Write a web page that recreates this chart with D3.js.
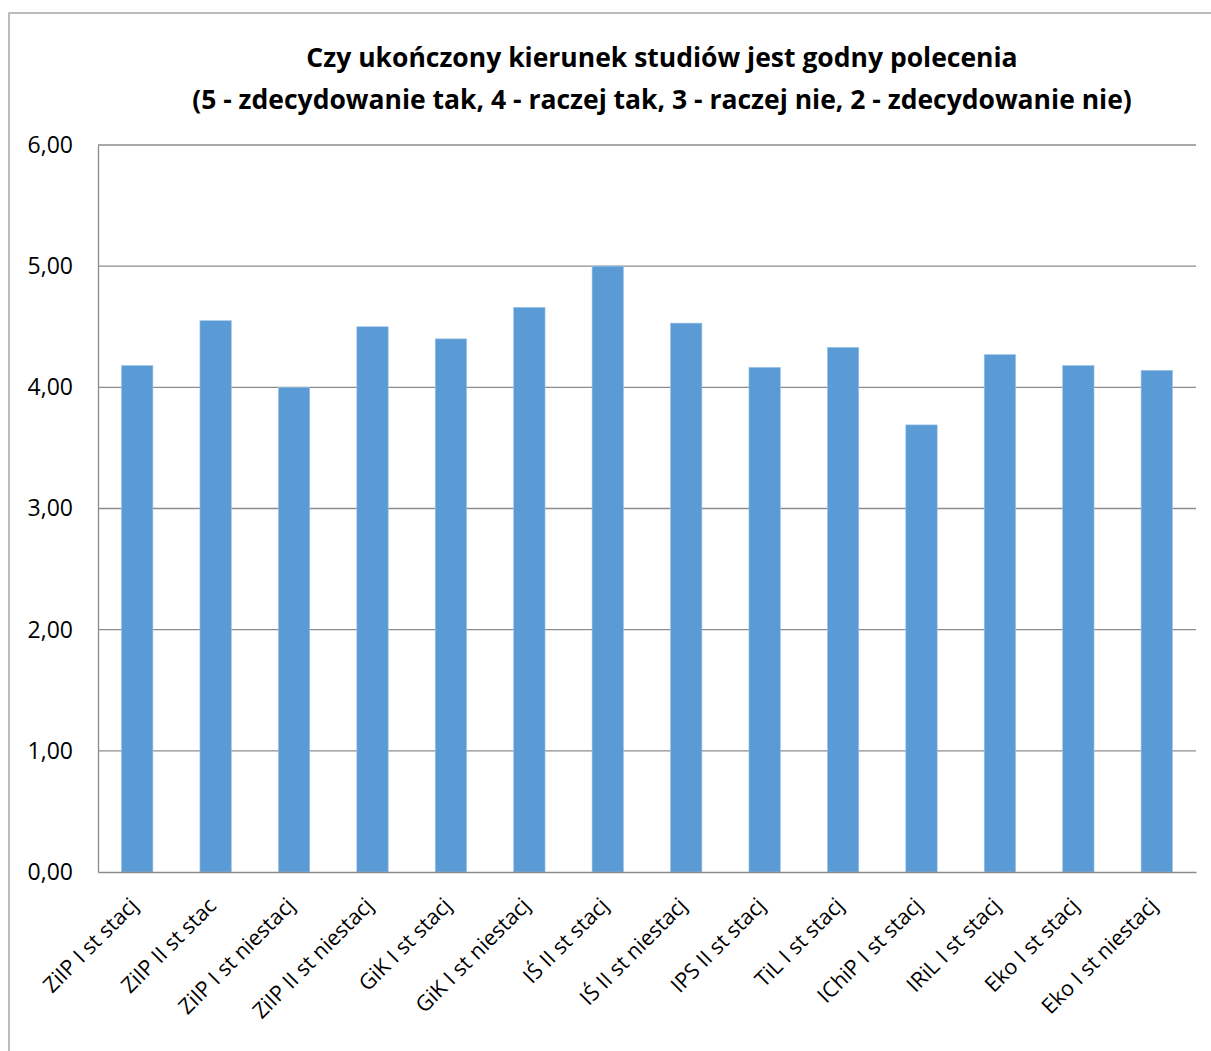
<!DOCTYPE html>
<html><head><meta charset="utf-8">
<script src="https://cdn.jsdelivr.net/npm/d3@7"></script>
<style>body{margin:0;background:#fff}svg{display:block}</style>
</head><body>
<script>
const categories = ["ZiIP I st stacj","ZiIP II st stac","ZiIP I st niestacj","ZiIP II st niestacj","GiK I st stacj","GiK I st niestacj","IŚ II st stacj","IŚ II st niestacj","IPS II st stacj","TiL I st stacj","IChiP I st stacj","IRiL I st stacj","Eko I st stacj","Eko I st niestacj"];
const values = [4.18,4.55,4.00,4.50,4.40,4.66,5.00,4.53,4.165,4.33,3.69,4.27,4.18,4.14];
const yTicks = [0,1,2,3,4,5,6];
const titleLines = ["Czy ukończony kierunek studiów jest godny polecenia","(5 - zdecydowanie tak, 4 - raczej tak, 3 - raczej nie, 2 - zdecydowanie nie)"];

const W = 1211, H = 1051;
const svg = d3.select("body").append("svg").attr("width", W).attr("height", H);
svg.append("rect").attr("x",9).attr("y",13).attr("width",W+20).attr("height",H+20)
  .attr("fill","#fff").attr("stroke","#a6a6a6").attr("stroke-width",1.5);

const m = {left:98, right:1196, top:145, bottom:872};
const x = d3.scaleBand().domain(categories).range([m.left, m.right]).paddingInner(0.6).paddingOuter(0.3);
const y = d3.scaleLinear().domain([0,6]).range([m.bottom, m.top]);

// gridlines
svg.append("g").selectAll("line").data(yTicks.filter(d=>d>0)).join("line")
  .attr("x1", m.left).attr("x2", m.right).attr("y1", d=>y(d)).attr("y2", d=>y(d))
  .attr("stroke","#8c8c8c").attr("stroke-width",1.3);

// bars
svg.append("g").selectAll("rect").data(values).join("rect")
  .attr("x",(d,i)=>x(categories[i])).attr("width", x.bandwidth())
  .attr("y", d=>y(d)).attr("height", d=>y(0)-y(d))
  .attr("fill","#5b9bd5").attr("stroke","#9dc3e6").attr("stroke-width",0.6);

// y axis
const yAxis = d3.axisLeft(y).tickValues(yTicks).tickSize(0).tickPadding(25)
  .tickFormat(d=>d3.format(".2f")(d).replace(".",","));
const gy = svg.append("g").attr("transform",`translate(${m.left},0)`).call(yAxis);
gy.select(".domain").attr("stroke","#8c8c8c").attr("stroke-width",1.3);
gy.selectAll("text").attr("font-family","Open Sans").attr("font-size",23).attr("fill","#000");

// x axis
const xAxis = d3.axisBottom(x).tickSize(0).tickPadding(0);
const gx = svg.append("g").attr("transform",`translate(0,${m.bottom})`).call(xAxis);
gx.select(".domain").attr("stroke","#8c8c8c").attr("stroke-width",1.3);
gx.selectAll("text").attr("font-family","Open Sans").attr("font-size",21.5).attr("fill","#000")
  .attr("text-anchor","end").attr("dy",null).attr("y",0)
  .attr("transform","translate(2,35) rotate(-45)");

// title
const t = svg.append("g");
titleLines.forEach((s,i)=>{
  t.append("text").attr("x", 662).attr("y", 67 + i*42).attr("text-anchor","middle")
   .attr("font-family","Open Sans").attr("font-weight","bold")
   .attr("font-size",26.5).attr("fill","#000").text(s);
});
</script>
</body></html>
